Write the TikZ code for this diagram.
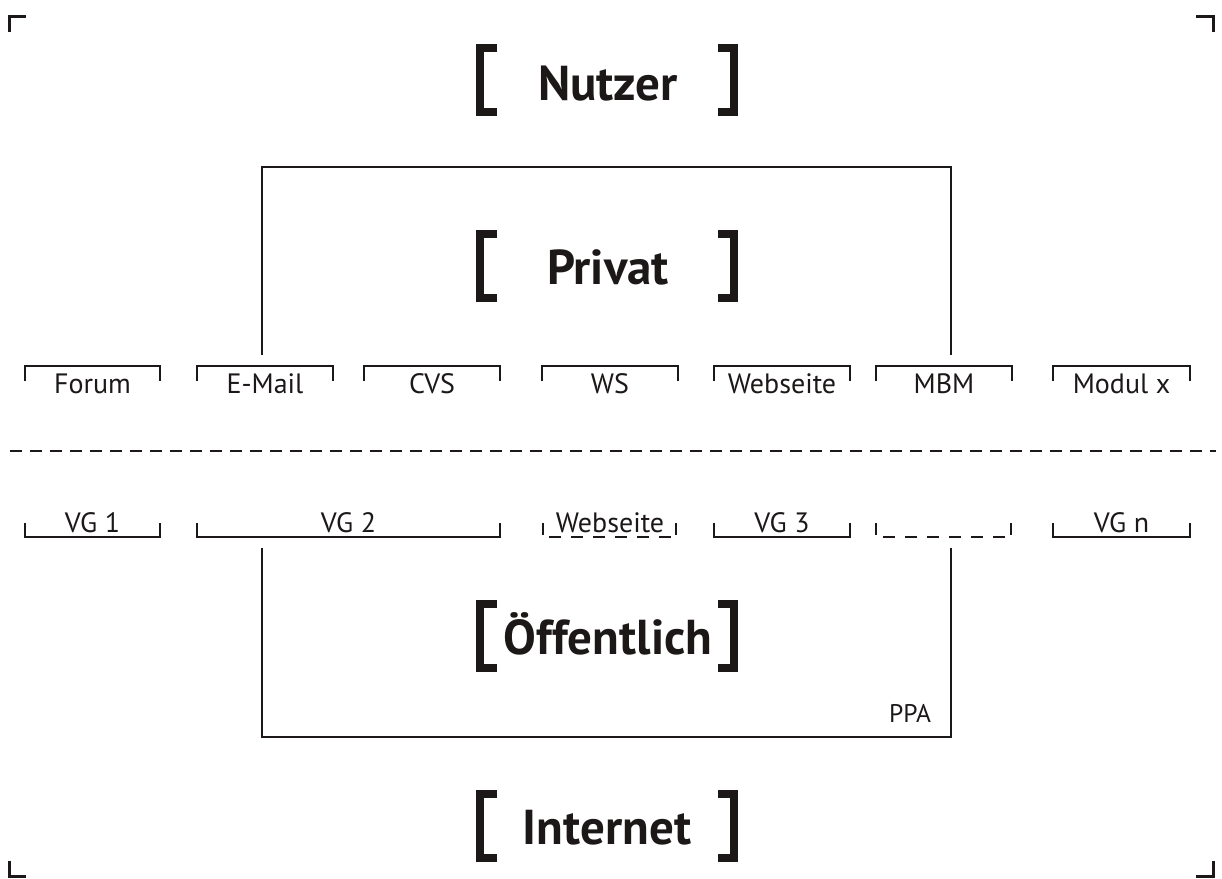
\documentclass[tikz,border=0pt]{standalone}
\usepackage{fontspec}
\setmainfont{PT Sans}
\usetikzlibrary{calc}
\definecolor{ink}{RGB}{28,24,24}
\begin{document}
\begin{tikzpicture}[x=1pt,y=-1pt,
  bigbr/.style={line width=8pt, draw=ink, line join=miter, line cap=butt},
  modbr/.style={line width=2.5pt, draw=ink, line join=miter},
  dashbr/.style={line width=2.5pt, draw=ink, dash pattern=on 12pt off 10pt},
  boxline/.style={line width=2pt, draw=ink},
  cornermark/.style={line width=3pt, draw=ink, line join=miter},
  biglbl/.style={font=\fontsize{49}{49}\selectfont\bfseries, text=ink, inner sep=0pt, anchor=base},
  modlbl/.style={font=\fontsize{28}{28}\selectfont, text=ink, inner sep=0pt, anchor=base},
  smalllbl/.style={font=\fontsize{25.5}{25.5}\selectfont, text=ink, inner sep=0pt, anchor=base}]
\useasboundingbox (0,0) rectangle (1222,878);

% corner marks
\draw[cornermark] (9,32) -- (9,16) -- (26,16);
\draw[cornermark] (1196,16) -- (1213,16) -- (1213,32);
\draw[cornermark] (9,861) -- (9,876) -- (26,876);
\draw[cornermark] (1196,876) -- (1213,876) -- (1213,861);

% big labels
\node[biglbl] (nutzer) at (608,100) {Nutzer};
\draw[bigbr] (497,48) -- (480,48) -- (480,112) -- (497,112);
\draw[bigbr] (718,48) -- (734,48) -- (734,112) -- (718,112);

\node[biglbl] (privat) at (608,284) {Privat};
\draw[bigbr] (497,234) -- (480,234) -- (480,298) -- (497,298);
\draw[bigbr] (718,234) -- (734,234) -- (734,298) -- (718,298);

\node[biglbl] (oeff) at (608,654) {Öffentlich};
\draw[bigbr] (497,604) -- (480,604) -- (480,668) -- (497,668);
\draw[bigbr] (718,604) -- (734,604) -- (734,668) -- (718,668);

\node[biglbl] (internet) at (607,844) {Internet};
\draw[bigbr] (497,794) -- (480,794) -- (480,858) -- (497,858);
\draw[bigbr] (718,794) -- (734,794) -- (734,858) -- (718,858);

% upper module row
\foreach \a/\b/\t/\n in {25/160/Forum/forum, 197/333/E-Mail/email, 364/500/CVS/cvs, 542/678/WS/ws, 714/850/Webseite/webo, 876/1012/MBM/mbm, 1053/1190/Modul x/modx}{
  \draw[modbr] (\a,381) -- (\a,366) -- (\b,366) -- (\b,381);
  \node[modlbl] (\n) at ({(\a+\b)/2},393) {\t};
}

% separator
\coordinate (sepL) at (10,451);
\coordinate (sepR) at (1216,451);
\draw[line width=2pt, draw=ink, dash pattern=on 12pt off 8pt] (sepL) -- (sepR);

% lower row
\foreach \a/\b/\t/\n in {25/160/VG 1/vga, 197/500/VG 2/vgb, 714/850/VG 3/vgc, 1053/1190/VG n/vgn}{
  \draw[modbr] (\a,523) -- (\a,537) -- (\b,537) -- (\b,523);
  \node[modlbl] (\n) at ({(\a+\b)/2},532) {\t};
}
\node[modlbl] (webu) at (610,532) {Webseite};
\draw[modbr] (543,523) -- (543,535);
\draw[modbr] (676,523) -- (676,535);
\draw[dashbr] (549,537) -- (671,537);
\draw[modbr] (876,523) -- (876,535);
\draw[modbr] (1011,523) -- (1011,535);
\draw[dashbr] (883,537) -- (1005,537);

% private frame
\coordinate (pa) at (262,355);
\coordinate (pb) at (951,355);
\draw[boxline] (pa) -- (262,167) -- (951,167) -- (pb);

% public frame
\coordinate (qa) at (262,548);
\coordinate (qb) at (951,548);
\draw[boxline] (qa) -- (262,737) -- (951,737) -- (qb);
\node[smalllbl] (ppa) at (910,722) {PPA};
\end{tikzpicture}
\end{document}
